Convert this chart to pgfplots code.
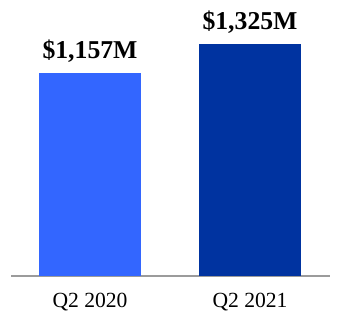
\documentclass[border=0pt]{standalone}
\usepackage{fontspec}
\setmainfont{Liberation Serif}
\usepackage{pgfplots}
\pgfplotsset{compat=1.18}
\definecolor{lightb}{RGB}{51,102,255}
\definecolor{darkb}{RGB}{0,51,160}
\definecolor{basegray}{RGB}{155,155,155}
\begin{document}
\begin{tikzpicture}[x=1pt,y=1pt]
\begin{axis}[
  at={(11pt,54pt)}, anchor=south west,
  scale only axis,
  width=319pt, height=276pt,
  xmin=-0.49375, xmax=1.5,
  ymin=0, ymax=1576,
  axis y line=none,
  axis x line*=bottom,
  x axis line style={basegray, line width=1.5pt, -},
  xtick={0,1},
  xticklabels={Q2 2020, Q2 2021},
  xtick style={draw=none},
  ticklabel style={font=\fontsize{21.6}{24}\selectfont},
  xticklabel style={yshift=-9pt},
  ybar, bar width=102pt,
  nodes near coords,
  nodes near coords style={font=\fontsize{25.7}{28}\selectfont\bfseries, yshift=7pt},
  point meta=explicit symbolic,
  clip=false,
]
\addplot[fill=lightb, draw=none, bar shift=0pt] coordinates {(0,1157) [\$1,157M]};
\addplot[fill=darkb, draw=none, bar shift=0pt] coordinates {(1,1325) [\$1,325M]};
\end{axis}
\pgfresetboundingbox
\path (0,0) rectangle (340pt,330pt);
\end{tikzpicture}
\end{document}
